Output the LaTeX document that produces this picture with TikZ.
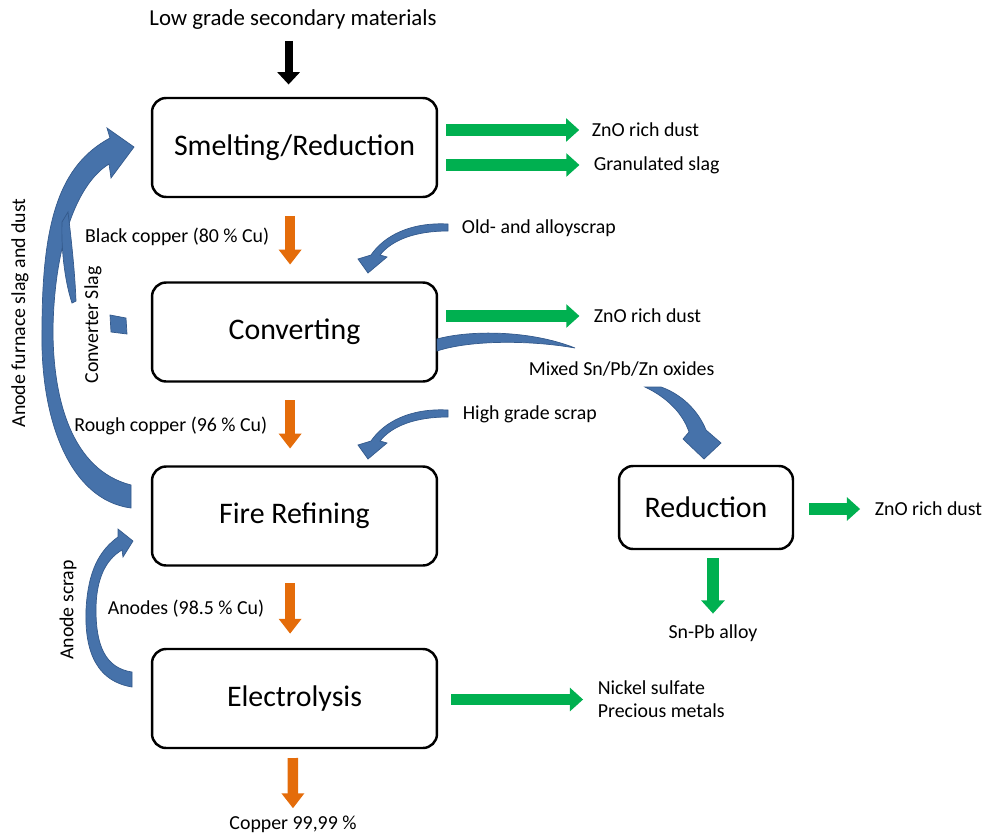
\documentclass[tikz,border=0pt]{standalone}
\usepackage{fontspec}
\setmainfont{Carlito}
\usetikzlibrary{arrows.meta}

\definecolor{flowgreen}{RGB}{0,176,80}
\definecolor{floworange}{RGB}{228,108,10}
\definecolor{recycleblue}{RGB}{70,114,170}
\definecolor{recycleedge}{RGB}{52,90,140}

\tikzset{
  procbox/.style={draw, line width=1.4pt, rounded corners=8pt,
    minimum width=5.7cm, minimum height=1.98cm, font=\fontsize{17}{20}\selectfont},
  lbl/.style={inner sep=2pt, font=\fontsize{11.3}{13}\selectfont},
  feedarrow/.style={line width=4.5pt, -{Triangle[length=7pt,width=12.5pt]}},
  outarrow/.style={flowgreen, line width=6.8pt, -{Triangle[length=7.5pt,width=13pt]}},
  cuarrow/.style={floworange, line width=6pt, -{Triangle[length=8.5pt,width=12.5pt]}},
  recycle/.style={fill=recycleblue, draw=recycleedge, line width=0.4pt},
}

\begin{document}
\begin{tikzpicture}[x=0.02cm, y=-0.02cm]
  \useasboundingbox (0,0) rectangle (984,832);

  % Process boxes
  \node[procbox] (smelt) at (294.5,147.5) {Smelting/Reduction};
  \node[procbox] (conv) at (294.5,332) {Converting};
  \node[procbox] (fire) at (294.5,516) {Fire Refining};
  \node[procbox] (elec) at (294.5,698.5) {Electrolysis};
  \node[procbox, minimum width=3.48cm, minimum height=1.66cm] (redn) at (706,507.5) {Reduction};

  % Texts of the streams
  \node[lbl, font=\fontsize{13}{15}\selectfont] (feed) at (293,20) {Low grade secondary materials};
  \node[lbl, anchor=west] (dust1) at (588,130) {ZnO rich dust};
  \node[lbl, anchor=west] (slag) at (590,165) {Granulated slag};
  \node[lbl, anchor=east] (blackcu) at (273,237) {Black copper (80 \% Cu)};
  \node[lbl, anchor=west] (oldscrap) at (458,228) {Old- and alloyscrap};
  \node[lbl, anchor=west] (dust2) at (590,316) {ZnO rich dust};
  \node[lbl, anchor=west] (oxides) at (525,369) {Mixed Sn/Pb/Zn oxides};
  \node[lbl, anchor=east] (roughcu) at (271,426) {Rough copper (96 \% Cu)};
  \node[lbl, anchor=west] (hgscrap) at (459,414) {High grade scrap};
  \node[lbl, anchor=west] (dust3) at (871,509) {ZnO rich dust};
  \node[lbl] (snpb) at (713,633) {Sn-Pb alloy};
  \node[lbl, anchor=east] (anodes) at (268,609) {Anodes (98.5 \% Cu)};
  \node[lbl, anchor=west, align=left] (nisulf) at (594,699.5) {Nickel sulfate\\Precious metals};
  \node[lbl] (cathode) at (293,824) {Copper 99,99 \%};
  \node[lbl, rotate=90] (anslag) at (20,313) {Anode furnace slag and dust};
  \node[lbl, rotate=90] (convslag) at (93,325) {Converter Slag};
  \node[lbl, rotate=90] (anscrap) at (68,610) {Anode scrap};

  % Feed arrow
  \draw[feedarrow, shorten <=4pt, shorten >=7pt] ([xshift=-2.5pt]feed.south) -- ([xshift=-2.5pt]feed.south |- smelt.north);

  % Copper line (orange)
  \draw[cuarrow, shorten <=10pt, shorten >=9.5pt] ([xshift=-2.5pt]smelt.south) -- ([xshift=-2.5pt]conv.north);
  \draw[cuarrow, shorten <=10pt, shorten >=9.5pt] ([xshift=-2.5pt]conv.south) -- ([xshift=-2.5pt]fire.north);
  \draw[cuarrow, shorten <=9.5pt, shorten >=8pt] ([xshift=-2.5pt]fire.south) -- ([xshift=-2.5pt]elec.north);
  \draw[cuarrow, shorten <=5pt, shorten >=2pt] ([xshift=-1pt]elec.south) -- (cathode.north);

  % Products (green)
  \draw[outarrow, shorten <=4.5pt, shorten >=5pt] (smelt.east |- dust1) -- (dust1.west);
  \draw[outarrow, shorten <=4.5pt, shorten >=6pt] (smelt.east |- slag) -- (slag.west);
  \draw[outarrow, shorten <=4.5pt, shorten >=6pt] (conv.east |- dust2) -- (dust2.west);
  \draw[outarrow, shorten <=7.4pt, shorten >=6.2pt] (elec.east |- nisulf) -- (nisulf.west);
  \draw[outarrow, shorten <=8.5pt, shorten >=6.2pt] (redn.east |- dust3) -- (dust3.west);
  \draw[outarrow, shorten <=4.5pt, shorten >=4pt] (snpb.north |- redn.south) -- (snpb.north);

  % Recycle streams (blue curved arrows)
  % anode furnace slag and dust
  \draw[recycle] (131,508) .. controls (70,500) and (40,420) .. (42,330)
    .. controls (42,220) and (60,165) .. (110,138) -- (107,128) -- (134,147) -- (111,178) -- (109,164)
    .. controls (75,185) and (54,250) .. (53,330)
    .. controls (53,400) and (72,470) .. (131,485) -- cycle;
  % converter slag
  \draw[recycle] (62,222) .. controls (61,255) and (66,285) .. (72,303) -- (76,301)
    .. controls (75,275) and (72,245) .. (68,212) -- cycle;
  \draw[recycle] (110,315) -- (126,318) -- (127,334) -- (111,332) -- cycle;
  % anode scrap
  \draw[recycle] (132,687) .. controls (90,680) and (85,640) .. (86,610)
    .. controls (88,570) and (100,550) .. (118,537) -- (118,529) -- (133,541) -- (123,557) -- (122,550)
    .. controls (105,560) and (96,580) .. (96,610)
    .. controls (96,645) and (105,668) .. (132,672) -- cycle;
  % old- and alloyscrap
  \draw[recycle] (448,224) .. controls (410,222) and (384,236) .. (371,255) -- (358,259) -- (368,273)
    -- (387,257) -- (380,255) .. controls (392,240) and (415,231) .. (448,231) -- cycle;
  % high grade scrap
  \draw[recycle] (448,410) .. controls (410,408) and (384,422) .. (371,441) -- (358,445) -- (368,459)
    -- (387,443) -- (380,441) .. controls (392,426) and (415,417) .. (448,417) -- cycle;
  % mixed oxides to reduction
  \draw[recycle] (437,339) .. controls (470,330) and (530,330) .. (575,348)
    .. controls (530,340) and (470,340) .. (437,351) -- cycle;
  \draw[recycle] (645,387) .. controls (668,398) and (683,414) .. (689,432) -- (683,439) -- (704,459)
    -- (721,443) -- (706,430) .. controls (698,410) and (681,394) .. (661,387) -- cycle;
\end{tikzpicture}
\end{document}
